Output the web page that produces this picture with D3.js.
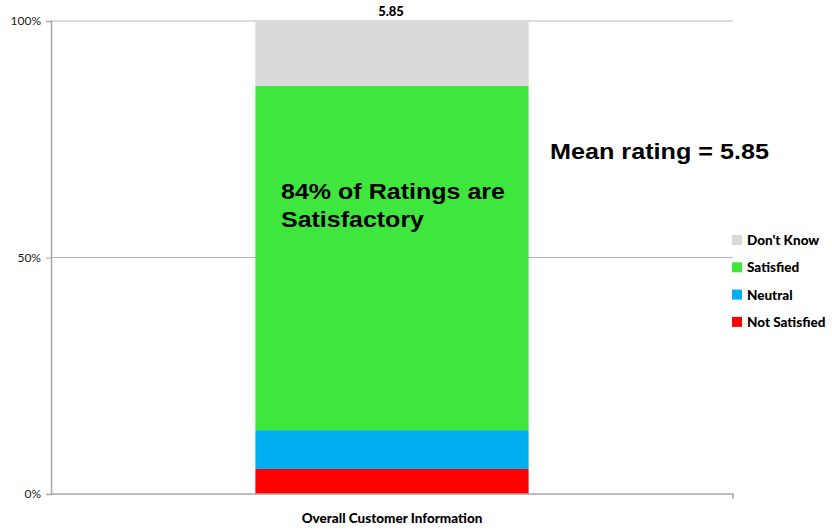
<!DOCTYPE html>
<html>
<head>
<meta charset="utf-8">
<script src="https://cdn.jsdelivr.net/npm/d3@7"></script>
<style>
  html, body { margin: 0; padding: 0; background: #fff; }
  svg { display: block; }
</style>
</head>
<body>
<svg id="chart" width="832" height="531"></svg>
<script>
// Category and series values (percent of ratings)
const categories = ["Overall Customer Information"];
const seriesNames = ["Not Satisfied", "Neutral", "Satisfied", "Don't Know"];
const notSatisfied = [5.3];
const neutral = [8.2];
const satisfied = [72.8];
const dontKnow = [13.7];
const meanRating = [5.85];
const yTickValues = [0, 50, 100];
const yTickLabels = ["0%", "50%", "100%"];
const colors = ["#ff0000", "#00b0f0", "#3ee63e", "#d9d9d9"];

const rows = categories.map((c, i) => ({
  category: c,
  "Not Satisfied": notSatisfied[i],
  "Neutral": neutral[i],
  "Satisfied": satisfied[i],
  "Don't Know": dontKnow[i]
}));

const svg = d3.select("#chart");
const plotLeft = 51, plotRight = 733, plotTop = 21, plotBottom = 494;
const labelFont = "Lato, 'Open Sans', sans-serif";

const x = d3.scaleBand().domain(categories).range([plotLeft, plotRight]).padding(0.428);
const y = d3.scaleLinear().domain([0, 100]).range([plotBottom, plotTop]);
const color = d3.scaleOrdinal().domain(seriesNames).range(colors);

// Gridlines
svg.append("g")
  .selectAll("line")
  .data(yTickValues.filter(v => v > 0))
  .join("line")
  .attr("x1", plotLeft).attr("x2", plotRight)
  .attr("y1", d => y(d)).attr("y2", d => y(d))
  .attr("stroke", "#b5b5b5").attr("stroke-width", 1);

// Stacked bar
const stacked = d3.stack().keys(seriesNames)(rows);
svg.append("g")
  .selectAll("g")
  .data(stacked)
  .join("g")
  .attr("fill", d => color(d.key))
  .selectAll("rect")
  .data(d => d)
  .join("rect")
  .attr("x", d => x(d.data.category))
  .attr("width", x.bandwidth())
  .attr("y", d => y(d[1]))
  .attr("height", d => y(d[0]) - y(d[1]));

// Y axis
const yAxis = d3.axisLeft(y)
  .tickValues(yTickValues)
  .tickFormat((d, i) => yTickLabels[i])
  .tickSize(5)
  .tickPadding(5);
const gy = svg.append("g").attr("transform", `translate(${plotLeft},0)`).call(yAxis);
gy.select(".domain").attr("stroke", "#a6a6a6").attr("stroke-width", 1.5);
gy.selectAll(".tick line").attr("stroke", "#a6a6a6");
gy.selectAll(".tick text")
  .attr("font-family", labelFont)
  .attr("font-size", 12)
  .attr("fill", "#1a1a1a");

// X axis
const xAxis = d3.axisBottom(x).tickSize(0).tickPadding(19);
const gx = svg.append("g").attr("transform", `translate(0,${plotBottom})`).call(xAxis);
gx.select(".domain").attr("stroke", "#a6a6a6").attr("stroke-width", 1.5)
  .attr("d", `M${plotLeft},0H${plotRight}V5`);
gx.selectAll(".tick text")
  .attr("font-family", labelFont)
  .attr("font-weight", 900)
  .attr("font-size", 13.5)
  .attr("fill", "#000");

// Value label above the bar
svg.append("g")
  .selectAll("text")
  .data(categories)
  .join("text")
  .attr("x", d => x(d) + x.bandwidth() / 2 - 1)
  .attr("y", y(100) - 5)
  .attr("text-anchor", "middle")
  .attr("font-family", labelFont)
  .attr("font-weight", 900)
  .attr("font-size", 13)
  .attr("fill", "#000")
  .text((d, i) => meanRating[i].toFixed(2));

// Annotations
const note = svg.append("g")
  .attr("font-family", "'Liberation Sans', Arial, sans-serif")
  .attr("font-weight", "bold")
  .attr("font-size", 22)
  .attr("fill", "#000");
note.append("text").attr("x", 550).attr("y", 159)
  .attr("textLength", 219).attr("lengthAdjust", "spacingAndGlyphs")
  .text(`Mean rating = ${meanRating[0].toFixed(2)}`);
note.append("text").attr("x", 281).attr("y", 199)
  .attr("textLength", 224).attr("lengthAdjust", "spacingAndGlyphs")
  .text("84% of Ratings are");
note.append("text").attr("x", 281).attr("y", 227)
  .attr("textLength", 143).attr("lengthAdjust", "spacingAndGlyphs")
  .text("Satisfactory");

// Legend
const legendOrder = seriesNames.slice().reverse();
const legend = svg.append("g").attr("transform", "translate(732,235)");
const item = legend.selectAll("g")
  .data(legendOrder)
  .join("g")
  .attr("transform", (d, i) => `translate(0,${i * 27.3})`);
item.append("rect")
  .attr("width", 10).attr("height", 10)
  .attr("fill", d => color(d));
item.append("text")
  .attr("x", 15).attr("y", 10)
  .attr("font-family", labelFont)
  .attr("font-weight", 900)
  .attr("font-size", 13.5)
  .attr("fill", "#000")
  .text(d => d);
</script>
</body>
</html>
